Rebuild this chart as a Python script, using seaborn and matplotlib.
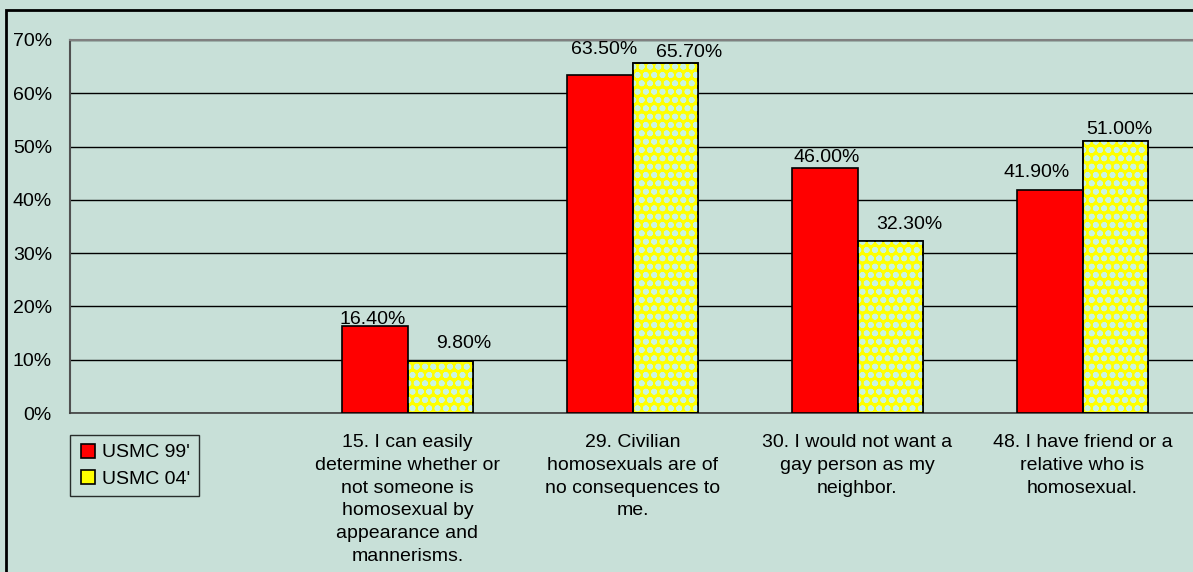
import numpy as np
import pandas as pd
import matplotlib
matplotlib.use("Agg")
import matplotlib.pyplot as plt
from matplotlib.patches import Rectangle
from matplotlib.lines import Line2D
from matplotlib.ticker import FuncFormatter, FixedLocator
import seaborn as sns

# --- data ---
categories = [
    "",
    "15. I can easily\ndetermine whether or\nnot someone is\nhomosexual by\nappearance and\nmannerisms.",
    "29. Civilian\nhomosexuals are of\nno consequences to\nme.",
    "30. I would not want a\ngay person as my\nneighbor.",
    "48. I have friend or a\nrelative who is\nhomosexual.",
]
series = ["USMC 99'", "USMC 04'"]
usmc_99 = [np.nan, 16.4, 63.5, 46.0, 41.9]
usmc_04 = [np.nan, 9.8, 65.7, 32.3, 51.0]

# label offsets (px) from bar top centre, as placed in the original
label_offsets = [
    [(-2, 2), (4, 21), (2, 6), (-13, 13)],
    [(24, 13), (24, 6), (19, 12), (4, 7)],
]

keys = [f"c{i}" for i in range(len(categories))]
df = pd.DataFrame({
    "key": keys * 2,
    "series": [series[0]] * len(keys) + [series[1]] * len(keys),
    "value": usmc_99 + usmc_04,
}).dropna()

bg = "#C8E0D8"
colors = {series[0]: "#FF0000", series[1]: "#FFFF00"}
fs = 14

sns.set_style("white")
plt.rcParams["font.family"] = ["Liberation Sans", "DejaVu Sans"]
plt.rcParams["text.color"] = "black"
plt.rcParams["xtick.color"] = "black"
plt.rcParams["ytick.color"] = "black"
plt.rcParams["hatch.linewidth"] = 1.8

fig = plt.figure(figsize=(11.93, 5.72), dpi=100)
fig.patch.set_facecolor(bg)
ax = fig.add_axes([70 / 1193, (572 - 413) / 572, 1125 / 1193, 373 / 572])
ax.set_facecolor(bg)

sns.barplot(data=df, x="key", y="value", hue="series", order=keys,
            hue_order=series, palette=colors, width=0.58, saturation=1,
            edgecolor="black", linewidth=1.2, ax=ax, legend=False, zorder=3)

# dotted pattern on the yellow bars
for p in ax.containers[1]:
    if np.isnan(p.get_height()):
        continue
    ax.add_patch(Rectangle((p.get_x(), p.get_y()), p.get_width(), p.get_height(),
                           fill=False, hatch="oo", edgecolor="#C8F4E2",
                           linewidth=0, zorder=3.5))
    ax.add_patch(Rectangle((p.get_x(), p.get_y()), p.get_width(), p.get_height(),
                           fill=False, edgecolor="black", linewidth=1.2, zorder=3.6))

# value labels
px = 72 / fig.dpi
for cont, vals, offs in zip(ax.containers, [usmc_99, usmc_04], label_offsets):
    shown = [v for v in vals if not np.isnan(v)]
    for p, v, (dx, dy) in zip(cont, shown, offs):
        ax.annotate(f"{v:.2f}%", (p.get_x() + p.get_width() / 2, p.get_height()),
                    xytext=(dx * px, dy * px), textcoords="offset points",
                    ha="center", va="baseline", fontsize=fs, zorder=5)

ax.set_ylim(0, 70)
ax.set_xlim(-0.5, len(keys) - 0.5)
ax.set_yticks(range(0, 71, 10))
ax.yaxis.set_major_formatter(FuncFormatter(lambda v, _: f"{v:.0f}%"))
ax.grid(axis="y", color="black", linewidth=1.0, zorder=0)
ax.set_axisbelow(True)

ax.set_xticks(range(len(keys)))
ax.set_xticklabels(categories, fontsize=fs, linespacing=1.45, va="top")
ax.tick_params(axis="x", which="major", length=0, pad=15)
ax.xaxis.set_minor_locator(FixedLocator(np.arange(0.5, len(keys) - 0.5, 1)))
ax.tick_params(axis="x", which="minor", length=5, direction="out", color="#404040")
ax.tick_params(axis="y", length=6, direction="out", color="#404040",
               labelsize=fs, pad=7)
ax.set_xlabel("")
ax.set_ylabel("")

for s in ["left", "bottom", "top"]:
    ax.spines[s].set_visible(True)
ax.spines["right"].set_visible(False)
ax.spines["left"].set_color("#505050")
ax.spines["left"].set_linewidth(1.5)
ax.spines["bottom"].set_color("#404040")
ax.spines["bottom"].set_linewidth(1.2)
ax.spines["top"].set_color("#808080")
ax.spines["top"].set_linewidth(1.5)

# legend
handles = [Line2D([], [], marker="s", linestyle="", markersize=10,
                  markerfacecolor=colors[s], markeredgecolor="black",
                  markeredgewidth=1.2)
           for s in series]
leg = fig.legend(handles, series, loc="upper left",
                 bbox_to_anchor=(70 / 1193, 1 - 435 / 572),
                 frameon=True, fancybox=False, edgecolor="black",
                 facecolor=bg, fontsize=fs, handletextpad=0.2,
                 borderpad=0.45, labelspacing=0.45, handlelength=1.0,
                 borderaxespad=0)
leg.get_frame().set_linewidth(1.0)

# chart area border
fig.add_artist(Rectangle((6 / 1193, -0.1), 1.2, (572 - 10) / 572 + 0.1,
                         transform=fig.transFigure, fill=False,
                         edgecolor="black", linewidth=2))

fig.savefig("out.png", dpi=100, facecolor=bg)
